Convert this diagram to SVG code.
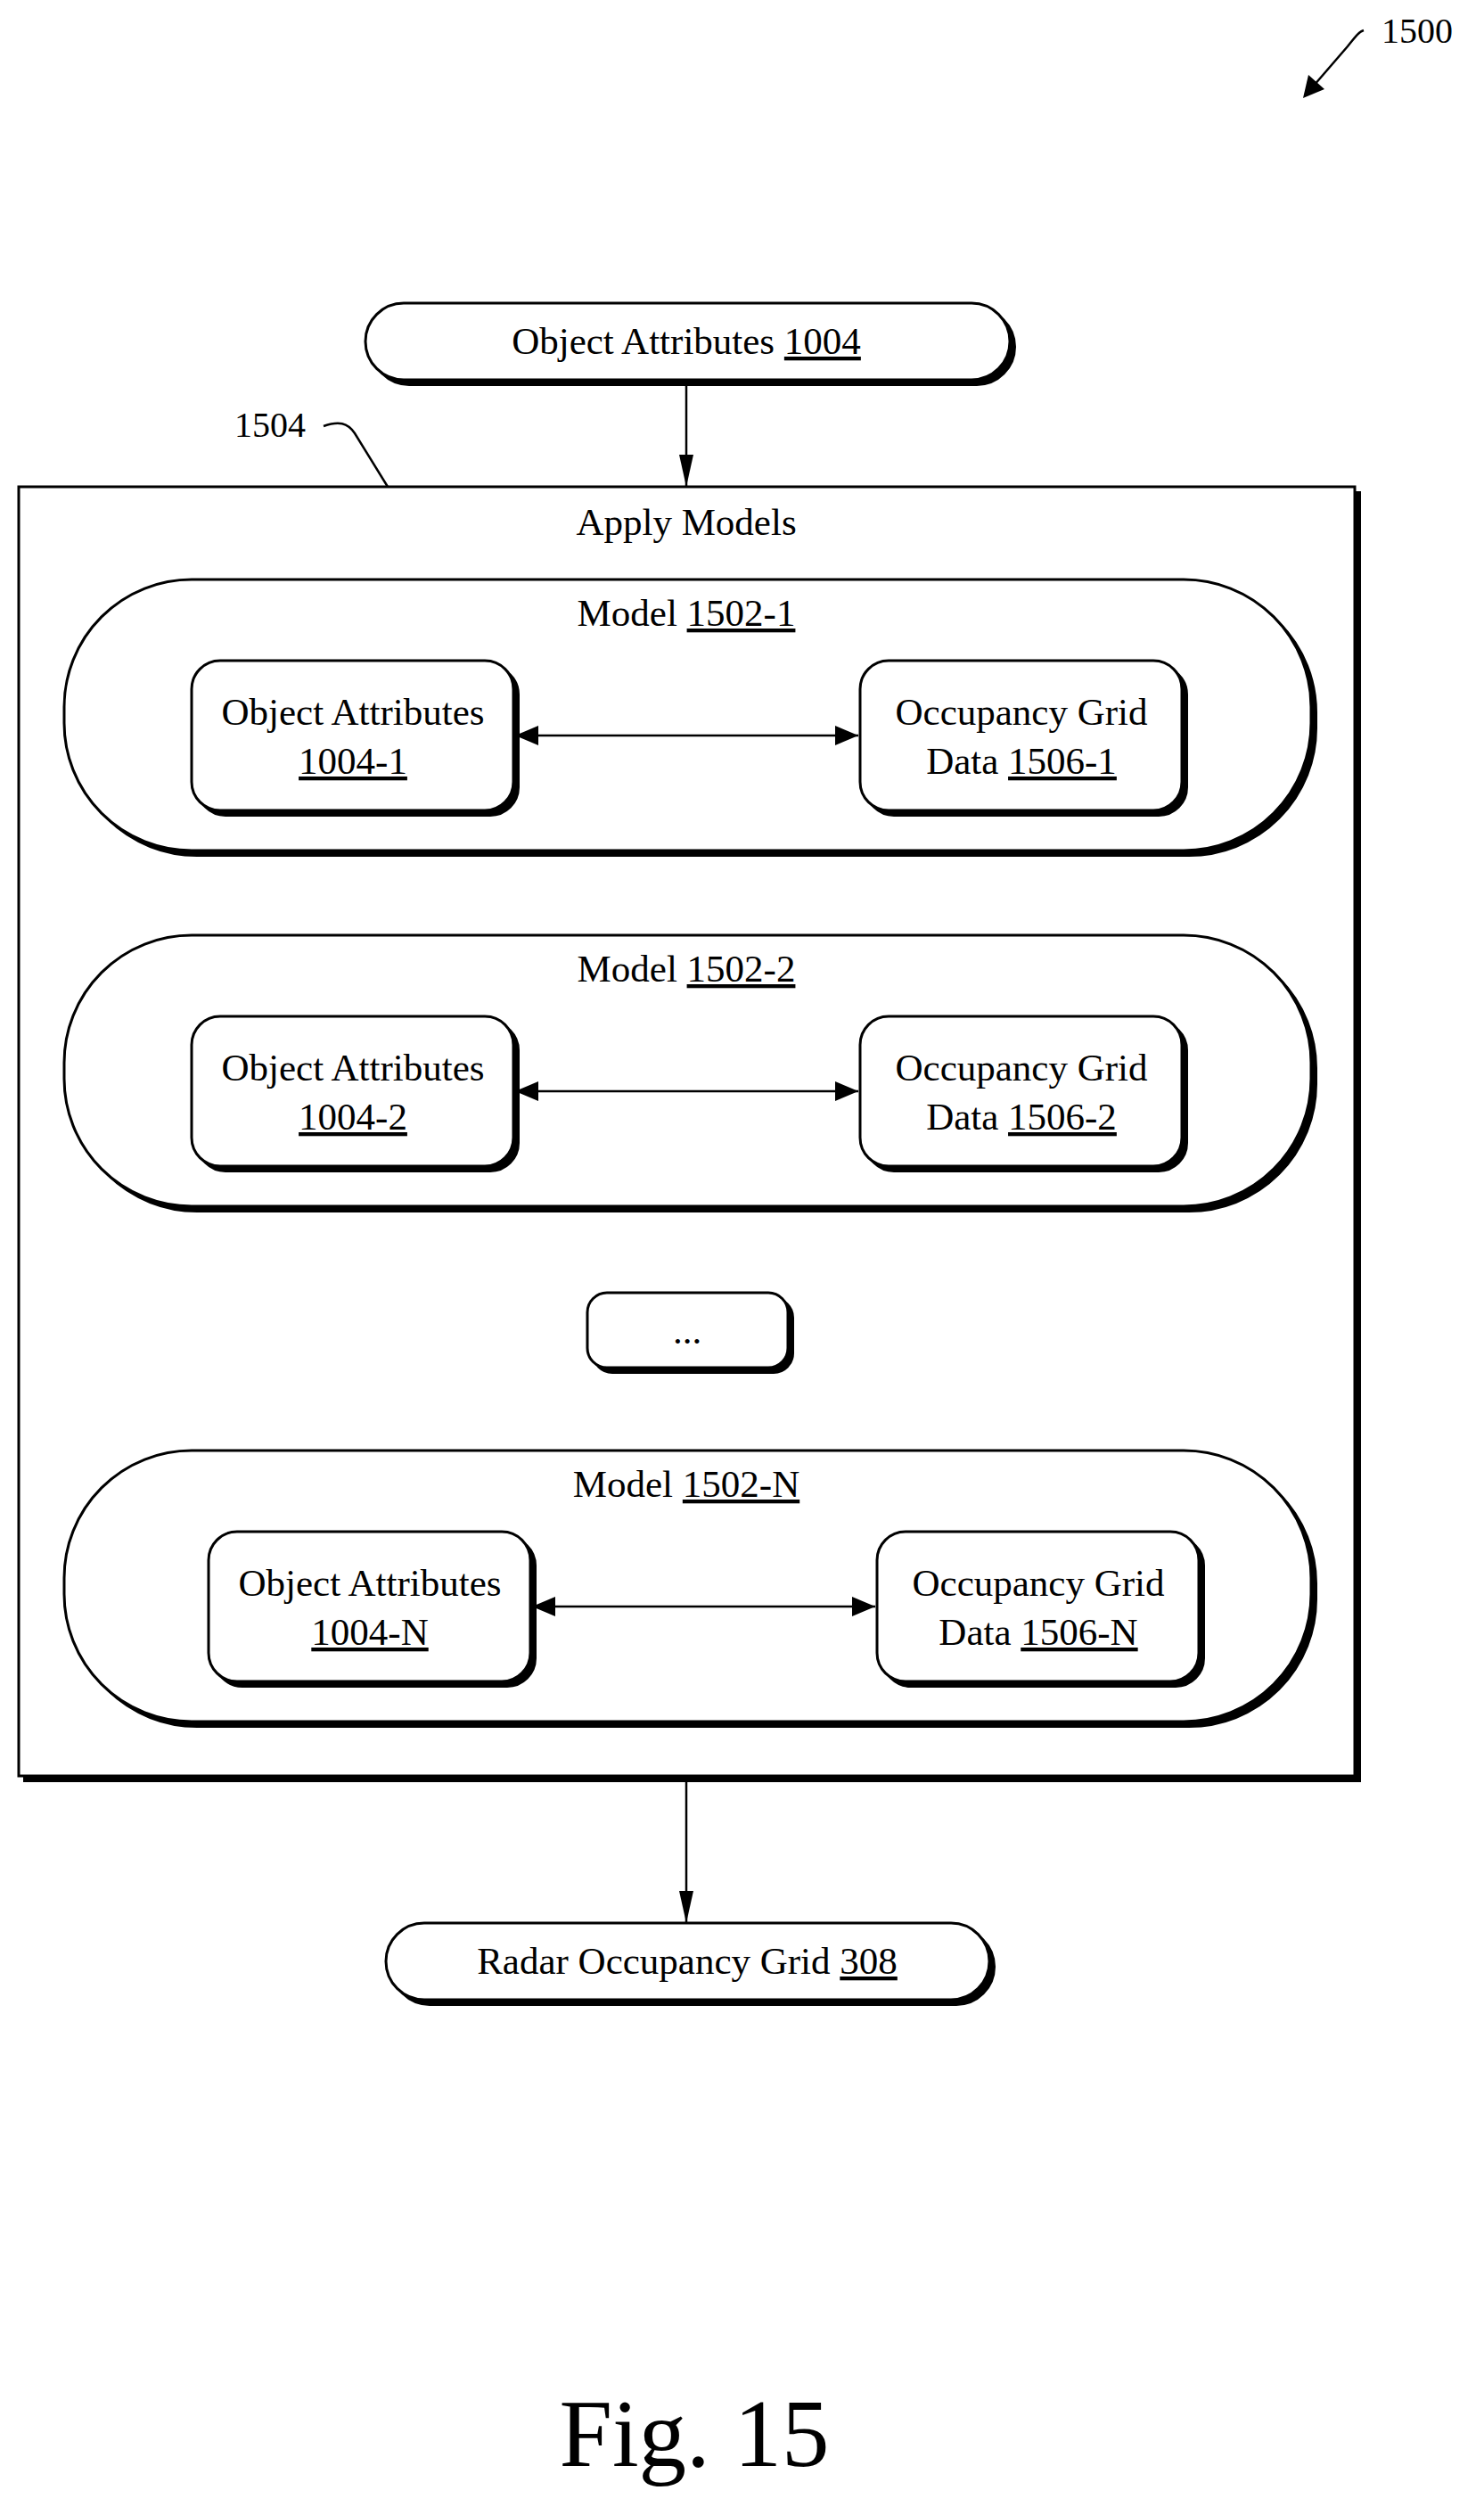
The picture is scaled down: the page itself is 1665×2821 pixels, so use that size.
<svg xmlns="http://www.w3.org/2000/svg" width="1665" height="2821" viewBox="0 0 1665 2821">
<style>
text{font-family:"Liberation Serif","Times New Roman",serif;font-size:43px;fill:#000;text-anchor:middle}
.s{fill:#000;stroke:#000;stroke-width:2}
.b{fill:#fff;stroke:#000;stroke-width:3}
.c{fill:none;stroke:#000;stroke-width:2.5}
.u{text-decoration:underline}
</style>
<defs>
<marker id="a" markerWidth="16" markerHeight="36" refX="8" refY="36" orient="0" markerUnits="userSpaceOnUse" viewBox="0 0 16 36"><path d="M0,0L16,0L8,36z"/></marker>
<marker id="h" viewBox="0 0 26 22" markerWidth="26" markerHeight="22" refX="26" refY="11" orient="auto-start-reverse" markerUnits="userSpaceOnUse"><path d="M0,0L26,11L0,22z"/></marker>
</defs>
<rect width="1665" height="2821" fill="#fff"/>
<g id="ref1500"><text x="1590" y="48" style="font-size:40px">1500</text></g>
<g id="ref1504"><text x="303" y="490" style="font-size:40px">1504</text></g>
<g id="box1504">
<rect class="s" x="27" y="552" width="1499" height="1446"/>
<rect class="b" x="21" y="546" width="1499" height="1446"/>
<text x="770" y="600">Apply Models</text>
</g>
<g id="top">
<rect class="s" x="416" y="346" width="723" height="86" rx="43"/>
<rect class="b" x="410" y="340" width="723" height="86" rx="43"/>
<text x="770" y="397">Object Attributes <tspan class="u">1004</tspan></text>
</g>
<g id="model1">
<rect class="s" x="78" y="656" width="1399" height="304" rx="143"/>
<rect class="b" x="72" y="650" width="1399" height="304" rx="143"/>
<text x="770" y="702">Model <tspan class="u">1502-1</tspan></text>
<rect class="s" x="221" y="747" width="361" height="168" rx="32"/>
<rect class="b" x="215" y="741" width="361" height="168" rx="32"/>
<text x="396" y="813">Object Attributes</text><text x="396" y="868" class="u">1004-1</text>
<rect class="s" x="971" y="747" width="361" height="168" rx="32"/>
<rect class="b" x="965" y="741" width="361" height="168" rx="32"/>
<text x="1146" y="813">Occupancy Grid</text><text x="1146" y="868">Data <tspan class="u">1506-1</tspan></text>
</g>
<g id="model2">
<rect class="s" x="78" y="1055" width="1399" height="304" rx="143"/>
<rect class="b" x="72" y="1049" width="1399" height="304" rx="143"/>
<text x="770" y="1101">Model <tspan class="u">1502-2</tspan></text>
<rect class="s" x="221" y="1146" width="361" height="168" rx="32"/>
<rect class="b" x="215" y="1140" width="361" height="168" rx="32"/>
<text x="396" y="1212">Object Attributes</text><text x="396" y="1267" class="u">1004-2</text>
<rect class="s" x="971" y="1146" width="361" height="168" rx="32"/>
<rect class="b" x="965" y="1140" width="361" height="168" rx="32"/>
<text x="1146" y="1212">Occupancy Grid</text><text x="1146" y="1267">Data <tspan class="u">1506-2</tspan></text>
</g>
<g id="dots">
<rect class="s" x="665" y="1456" width="225" height="84" rx="22"/>
<rect class="b" x="659" y="1450" width="225" height="84" rx="22"/>
<text x="771" y="1507">...</text>
</g>
<g id="modelN">
<rect class="s" x="78" y="1633" width="1399" height="304" rx="143"/>
<rect class="b" x="72" y="1627" width="1399" height="304" rx="143"/>
<text x="770" y="1679">Model <tspan class="u">1502-N</tspan></text>
<rect class="s" x="240" y="1724" width="361" height="168" rx="32"/>
<rect class="b" x="234" y="1718" width="361" height="168" rx="32"/>
<text x="415" y="1790">Object Attributes</text><text x="415" y="1845" class="u">1004-N</text>
<rect class="s" x="990" y="1724" width="361" height="168" rx="32"/>
<rect class="b" x="984" y="1718" width="361" height="168" rx="32"/>
<text x="1165" y="1790">Occupancy Grid</text><text x="1165" y="1845">Data <tspan class="u">1506-N</tspan></text>
</g>
<g id="bottom">
<rect class="s" x="439" y="2163" width="677" height="86" rx="43"/>
<rect class="b" x="433" y="2157" width="677" height="86" rx="43"/>
<text x="771" y="2214">Radar Occupancy Grid <tspan class="u">308</tspan></text>
</g>
<g id="connectors">
<line class="c" x1="770" y1="428" x2="770" y2="546" marker-end="url(#a)"/>
<line class="c" x1="770" y1="1994" x2="770" y2="2157" marker-end="url(#a)"/>
<line class="c" x1="578" y1="825" x2="963" y2="825" marker-start="url(#h)" marker-end="url(#h)"/>
<line class="c" x1="578" y1="1224" x2="963" y2="1224" marker-start="url(#h)" marker-end="url(#h)"/>
<line class="c" x1="597" y1="1802" x2="982" y2="1802" marker-start="url(#h)" marker-end="url(#h)"/>
<path class="c" d="M363,478 C380,472 390,474 398,486 L435,546"/>
<path class="c" d="M1530,34 C1524,36 1520,42 1512,52 L1474,96"/>
<path d="M1462,110 L1468,84 L1486,100 z"/>
</g>
<text x="779" y="2766" style="font-size:107px">Fig. 15</text>
</svg>
